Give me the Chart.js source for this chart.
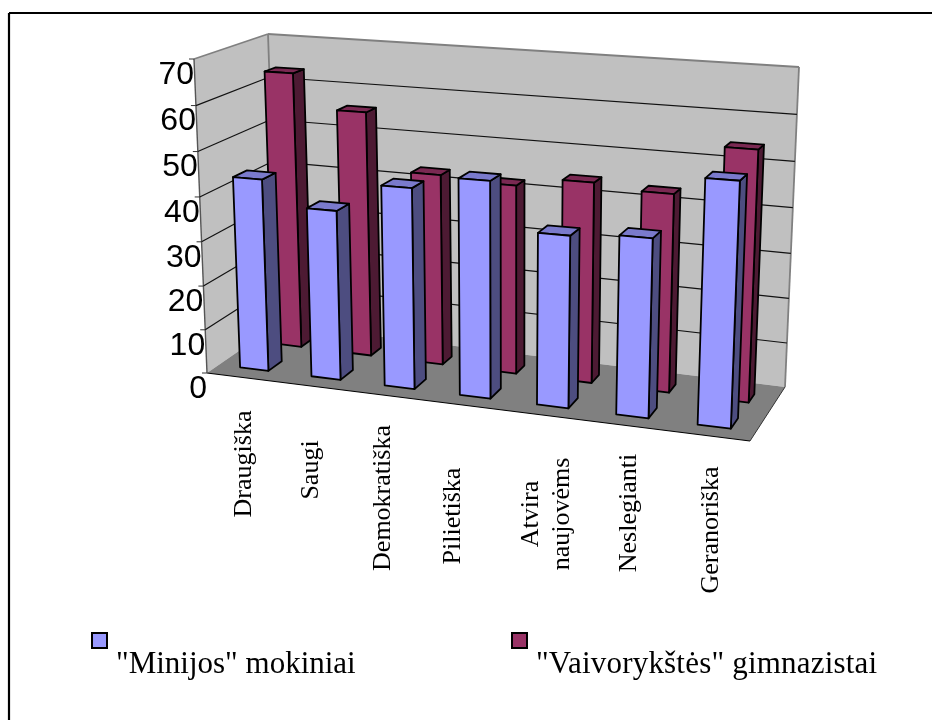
<!DOCTYPE html>
<html>
<head>
<meta charset="utf-8">
<title>Mokyklos</title>
<script src="https://cdn.jsdelivr.net/npm/chart.js@4/dist/chart.umd.min.js"></script>
<style>
    html, body { margin: 0; padding: 0; background: #fff; }
    canvas { display: block; }
</style>
</head>
<body>
<canvas id="chart" width="932" height="720"></canvas>
<script>
const categories = ['Draugiška', 'Saugi', 'Demokratiška', 'Pilietiška', ['Atvira', 'naujovėms'], 'Neslegianti', 'Geranoriška']
const minijos = [43.5, 38, 44.4, 47.3, 37.2, 38.2, 51.4]
const vaivorykstes = [63.8, 56.2, 43.5, 42.6, 44.7, 43.7, 54.5]
const seriesNames = ['"Minijos" mokiniai', '"Vaivorykštės" gimnazistai']
const axisMax = 70
const axisStep = 10

// box corners on screen: front-left, front-right, back-right, back-left
const floorQuad = [[207, 373], [750, 441], [785, 387], [278, 324]]
const roofQuad = [[194, 59], [764, 93], [799, 67], [268, 34]]
// perspective squeeze: categories on floor and roof, and height
const floorSpread = 0.92
const roofSpread = 0.86
const heightSpread = 0.957
// depth range of each row, [front, back]
const rows = [[0.16, 0.35], [0.64, 0.8]]
const faces = [
    { front: '#9999ff', side: '#4d4d80', top: '#7a7acc' },
    { front: '#993366', side: '#4d1a33', top: '#7a2952' }
]
// rotated category text: first line baseline x, middle y
const catLabelX = [251, 318, 390, 460, 538, 636, 718]
const catLabelY = [464, 470, 498, 516, 514, 513, 530]

function quadMap(q) {
    const [p0, p1, p2, p3] = q
    const dx1 = p1[0] - p2[0], dx2 = p3[0] - p2[0], sx = p0[0] - p1[0] + p2[0] - p3[0]
    const dy1 = p1[1] - p2[1], dy2 = p3[1] - p2[1], sy = p0[1] - p1[1] + p2[1] - p3[1]
    const den = dx1 * dy2 - dx2 * dy1
    const g = (sx * dy2 - dx2 * sy) / den
    const h = (dx1 * sy - sx * dy1) / den
    const a = p1[0] - p0[0] + g * p1[0], b = p3[0] - p0[0] + h * p3[0]
    const d = p1[1] - p0[1] + g * p1[1], e = p3[1] - p0[1] + h * p3[1]
    return function (u, w) {
        const k = g * u + h * w + 1
        return [(a * u + b * w + p0[0]) / k, (d * u + e * w + p0[1]) / k]
    }
}
const floorAt = quadMap(floorQuad)
const roofAt = quadMap(roofQuad)

function warp(t, s) {
    return t * s / (1 - (1 - s) * t)
}
function project(u, w, v) {
    const f = floorAt(warp(u, floorSpread), w), r = roofAt(warp(u, roofSpread), w)
    const h = warp(v, heightSpread)
    return [f[0] + (r[0] - f[0]) * h, f[1] + (r[1] - f[1]) * h]
}
function poly(ctx, pts, fill, stroke, lw) {
    ctx.beginPath()
    pts.forEach((p, i) => i ? ctx.lineTo(p[0], p[1]) : ctx.moveTo(p[0], p[1]))
    ctx.closePath()
    if (fill) { ctx.fillStyle = fill; ctx.fill() }
    if (stroke) { ctx.strokeStyle = stroke; ctx.lineWidth = lw; ctx.stroke() }
}
function line(ctx, a, b, color, lw) {
    ctx.beginPath()
    ctx.moveTo(a[0], a[1])
    ctx.lineTo(b[0], b[1])
    ctx.strokeStyle = color
    ctx.lineWidth = lw
    ctx.stroke()
}

class Bar3D extends Chart.BarController {
    draw() {
        const { ctx } = this.chart
        const { xScale, yScale } = this._cachedMeta
        const row = rows[this.index], face = faces[this.index]
        const span = xScale.right - xScale.left
        ctx.save()
        ctx.lineJoin = 'round'
        this._cachedMeta.data.forEach(function (bar) {
            const uL = (bar.x - bar.width / 2 - xScale.left) / span
            const uR = (bar.x + bar.width / 2 - xScale.left) / span
            const v = (yScale.bottom - bar.y) / (yScale.bottom - yScale.top)
            const [w0, w1] = row
            poly(ctx, [project(uR, w0, 0), project(uR, w1, 0), project(uR, w1, v), project(uR, w0, v)], face.side, '#000', 1.8)
            poly(ctx, [project(uL, w0, v), project(uR, w0, v), project(uR, w1, v), project(uL, w1, v)], face.top, '#000', 1.8)
            poly(ctx, [project(uL, w0, 0), project(uR, w0, 0), project(uR, w0, v), project(uL, w0, v)], face.front, '#000', 1.8)
        })
        ctx.restore()
    }
}
Bar3D.id = 'bar3d'
Bar3D.defaults = Chart.BarController.defaults
Bar3D.overrides = Chart.BarController.overrides
Chart.register(Bar3D)

const room = {
    id: 'room',
    beforeDatasetsDraw(chart) {
        const { ctx } = chart
        const yScale = chart.scales.y
        ctx.save()
        ctx.lineJoin = 'miter'
        // page frame, only top and left
        line(ctx, [9, 720], [9, 13], '#000', 2.2)
        line(ctx, [9, 13], [932, 13], '#000', 2.2)
        // walls and floor
        poly(ctx, [project(0, 0, 0), project(0, 1, 0), project(0, 1, 1), project(0, 0, 1)], '#c0c0c0')
        poly(ctx, [project(0, 1, 0), project(1, 1, 0), project(1, 1, 1), project(0, 1, 1)], '#c0c0c0')
        poly(ctx, [project(0, 0, 0), project(1, 0, 0), project(1, 1, 0), project(0, 1, 0)], '#808080')
        line(ctx, project(0, 0, 1), project(0, 1, 1), '#808080', 1.8)
        line(ctx, project(0, 1, 1), project(1, 1, 1), '#808080', 1.8)
        line(ctx, project(0, 1, 1), project(0, 1, 0), '#808080', 1.8)
        line(ctx, project(1, 1, 1), project(1, 1, 0), '#808080', 1.8)
        line(ctx, project(0, 0, 0), project(1, 0, 0), '#000', 1.2)
        line(ctx, project(1, 0, 0), project(1, 1, 0), '#333', 1)
        line(ctx, project(0, 0, 0), project(0, 0, 1), '#555', 1.4)
        // gridlines and value labels, from the value axis ticks
        ctx.font = '32px "Liberation Sans", Arial, sans-serif'
        ctx.textAlign = 'right'
        ctx.textBaseline = 'middle'
        yScale.ticks.forEach(function (tick) {
            const v = tick.value / axisMax
            const a = project(0, 0, v)
            if (tick.value > 0 && tick.value < axisMax) {
                line(ctx, a, project(0, 1, v), '#111', 1.2)
                line(ctx, project(0, 1, v), project(1, 1, v), '#111', 1.2)
            }
            line(ctx, a, [a[0] - 5, a[1]], '#333', 1)
            ctx.fillStyle = '#000'
            ctx.fillText(tick.label, a[0], a[1] + 16)
        })
        ctx.restore()
    },
    afterDatasetsDraw(chart) {
        const { ctx } = chart
        ctx.save()
        // category labels, rotated
        ctx.font = '26px "Liberation Serif", "Times New Roman", serif'
        ctx.fillStyle = '#000'
        ctx.textAlign = 'center'
        ctx.textBaseline = 'alphabetic'
        chart.scales.x.getLabels().forEach(function (label, i) {
            const lines = Array.isArray(label) ? label : [label]
            ctx.save()
            ctx.translate(catLabelX[i], catLabelY[i])
            ctx.rotate(-Math.PI / 2)
            lines.forEach((txt, n) => ctx.fillText(txt, 0, n * 31))
            ctx.restore()
        })
        // legend
        ctx.textAlign = 'left'
        ctx.font = '31px "Liberation Serif", "Times New Roman", serif'
        const boxX = [92, 512]
        chart.data.datasets.forEach(function (ds, i) {
            ctx.fillStyle = faces[i].front
            ctx.strokeStyle = '#000'
            ctx.lineWidth = 2
            ctx.fillRect(boxX[i], 633, 15, 15)
            ctx.strokeRect(boxX[i], 633, 15, 15)
            ctx.fillStyle = '#000'
            ctx.letterSpacing = i ? '0.2px' : '0px'
            ctx.fillText(ds.label, boxX[i] + 24, 673)
        })
        ctx.restore()
    }
}

new Chart(document.getElementById('chart'), {
    type: 'bar3d',
    data: {
        labels: categories,
        datasets: [
            { label: seriesNames[0], data: minijos, backgroundColor: faces[0].front, borderColor: '#000' },
            { label: seriesNames[1], data: vaivorykstes, backgroundColor: faces[1].front, borderColor: '#000' }
        ]
    },
    options: {
        responsive: false,
        animation: false,
        devicePixelRatio: 1,
        datasets: { bar3d: { grouped: false, categoryPercentage: 1, barPercentage: 0.4 } },
        layout: { padding: { left: 200, right: 140, top: 60, bottom: 200 } },
        scales: {
            x: { type: 'category', grid: { display: false }, border: { display: false }, ticks: { display: false } },
            y: {
                type: 'linear', min: 0, max: axisMax,
                grid: { display: false }, border: { display: false },
                ticks: { display: false, stepSize: axisStep }
            }
        },
        plugins: { legend: { display: false }, tooltip: { enabled: false } }
    },
    plugins: [room]
})
</script>
</body>
</html>
